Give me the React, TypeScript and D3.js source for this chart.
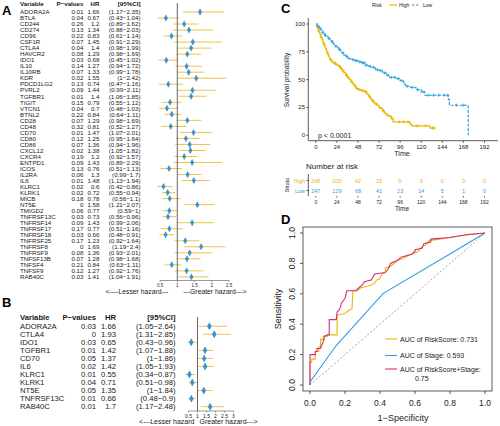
import React from "react";
import * as d3 from "d3";

const FONT = "'Liberation Sans', Arial, Helvetica, sans-serif";
const GOLD = "#E7B800";
const BLUE = "#2E9FDF";
const MAGENTA = "#D62A80";
const CI_COL = "#EEC444";
const PT_COL = "#3A94D0";
const TXT = "#1a1a1a";

// ---------- Panel A ----------
const genesA = ["ADORA2A","BTLA","CD244","CD274","CD96","CSF1R","CTLA4","HAVCR2","IDO1","IL10","IL10RB","KDR","PDCD1LG2","PVRL2","TGFBR1","TIGIT","VTCN1","BTNL2","CD28","CD48","CD70","CD80","CD86","CXCL12","CXCR4","ENTPD1","ICOS","IL2RA","IL6","KLRC1","KLRK1","MICB","NT5E","TMIGD2","TNFRSF13C","TNFRSF14","TNFRSF17","TNFRSF18","TNFRSF25","TNFRSF8","TNFRSF9","TNFSF13B","TNFSF4","TNFSF9","RAB40C"];
const pA = [0.01,0.04,0.26,0.13,0.22,0.07,0.04,0.08,0.03,0.14,0.07,0.02,0.13,0.09,0.01,0.15,0.04,0.22,0.07,0.32,0.01,0.12,0.07,0.02,0.19,0.09,0.13,0.06,0.01,0.02,0.02,0.18,0,0.06,0.03,0.09,0.17,0.03,0.17,0,0.08,0.07,0.21,0.12,0.03];
const hrA = [1.66,0.67,1.2,1.34,0.83,1.45,1.4,1.29,0.68,1.27,1.33,1.55,0.74,1.44,1.4,0.79,0.7,0.84,1.29,0.81,1.47,1.25,1.36,1.38,1.2,1.43,0.76,1.3,1.48,0.6,0.72,0.78,1.58,0.77,0.73,1.43,0.77,0.66,1.23,1.69,1.36,1.28,0.84,1.27,1.41];
const loA = [1.17,0.43,0.89,0.88,0.61,0.91,0.98,0.98,0.45,0.94,0.99,1,0.47,0.99,1.06,0.55,0.48,0.64,0.98,0.52,1.07,0.95,0.94,1.05,0.92,0.89,0.51,0.99,1.13,0.42,0.55,0.56,1.21,0.59,0.56,0.99,0.51,0.48,0.92,1.19,0.93,0.98,0.63,0.92,1.04];
const hiA = [2.35,1.04,1.62,2.03,1.14,2.29,1.99,1.69,1.02,1.72,1.78,2.42,1.16,2.11,1.85,1.12,1.03,1.11,1.69,1.27,2.01,1.64,1.96,1.82,1.57,2.29,1.13,1.7,1.94,0.86,0.94,1.1,2.07,1,0.96,2.06,1.16,0.91,1.64,2.4,2.01,1.68,1.11,1.76,1.91];
const ticksA = [0.5, 1, 1.5, 2, 2.5];

// ---------- Panel B ----------
const genesB = ["ADORA2A","CTLA4","IDO1","TGFBR1","CD70","IL6","KLRC1","KLRK1","NT5E","TNFRSF13C","RAB40C"];
const pB = [0.03,0,0.03,0.01,0.05,0.02,0.01,0.04,0.05,0.01,0.01];
const hrB = [1.66,1.93,0.65,1.42,1.37,1.42,0.55,0.71,1.35,0.66,1.7];
const loB = [1.05,1.31,0.43,1.07,1,1.05,0.34,0.51,1,0.48,1.17];
const hiB = [2.64,2.85,0.96,1.88,1.86,1.93,0.87,0.98,1.84,0.9,2.48];
const ticksB = [0.5, 1, 1.5, 2, 2.5, 3];

// ---------- Panel C ----------
const highT = [0,1,2,3,4,5,6,7,8,9,10,11,12,13,14,15,16,18,20,22,24,26,28,30,32,34,36,38,40,42,44,46,48,52,56,58,60,62,64,66,68,70,72,74,76,78,80,84,86,88,107,109,130,135];
const highS = [100,98,96,94,92,90,88,86,84,82,80,78,76,74,72,70,68,66,65,64,63,62,60,58,56,54,52,50,48,46,44,42,41,40,39,37,35,33,31,29,28,27,25,24,22,20,18,17,15,12,10,8.5,6.5,6.5];
const lowT = [0,2,4,6,8,10,12,14,16,18,20,22,24,26,28,30,32,34,36,40,44,48,52,56,60,64,68,72,76,80,84,88,92,96,100,102,108,114,120,124,150,151,152,173,173.5];
const lowS = [100,98,96,94,92,90,89,87,85,84,82,80,79,77,76,74,72,71,69,68,67,66,65,63,62,61,59,58,56,54,52,52,51,49,46,44,43,41,39,36,36,32,27,27,0];
const highCens = [3,6,9,13,17,21,23,27,29,31,35,37,41,45,47,50,54,57,61,65,69,73,77,82,87,95,100,105,115,125,133,135];
const lowCens = [2,5,8,11,15,19,23,27,31,35,38,42,45,47,50,53,55,58,62,66,70,74,78,82,86,90,94,98,104,110,116,122,128,134,140,146,150,160,168];
const timeTicks = [0,24,48,72,96,120,144,168,192];
const survTicks = [0,25,50,75,100];
const riskHigh = [248,100,42,15,5,3,0,0,0];
const riskLow = [247,129,68,41,23,14,5,1,0];

// ---------- Panel D ----------
const rocRiskX = [0,0,0.01,0.01,0.03,0.03,0.05,0.05,0.06,0.06,0.08,0.08,0.1,0.1,0.155,0.155,0.2,0.22,0.24,0.245,0.27,0.29,0.33,0.37,0.38,0.4,0.41,0.43,0.43,0.46,0.5,0.53,0.56,0.6,0.62,0.63,0.66,0.68,0.75,0.85,0.92,1];
const rocRiskY = [0,0.15,0.15,0.17,0.17,0.22,0.22,0.25,0.25,0.3,0.3,0.32,0.32,0.33,0.33,0.46,0.47,0.49,0.5,0.62,0.62,0.64,0.65,0.67,0.69,0.7,0.73,0.74,0.77,0.78,0.82,0.83,0.85,0.87,0.88,0.9,0.92,0.95,0.96,0.98,0.99,1];
const rocStageX = [0,0,0.152,0.419,0.838,1];
const rocStageY = [0,0.02,0.263,0.603,0.888,1];
const rocBothX = [0,0,0.03,0.03,0.04,0.04,0.06,0.07,0.08,0.08,0.1,0.11,0.11,0.15,0.155,0.17,0.18,0.2,0.21,0.26,0.27,0.3,0.31,0.35,0.37,0.43,0.45,0.46,0.5,0.52,0.58,0.6,0.6,0.64,0.65,0.69,0.69,0.8,0.9,1];
const rocBothY = [0,0.2,0.2,0.22,0.22,0.24,0.24,0.27,0.3,0.32,0.33,0.33,0.43,0.43,0.48,0.5,0.54,0.57,0.62,0.62,0.63,0.66,0.68,0.69,0.73,0.74,0.77,0.8,0.82,0.84,0.86,0.88,0.89,0.9,0.93,0.94,0.96,0.97,0.99,1];
const rocTicks = [0, 0.2, 0.4, 0.6, 0.8, 1.0];
const legendD = ["AUC of RiskScore: 0.731", "AUC of Stage: 0.593", "AUC of RiskScore+Stage:"];

const fmtCI = (lo: number, hi: number) => `(${lo}\u2212${hi})`;

function stepAt(ts: number[], ss: number[], t: number) {
  let v = ss[0];
  for (let i = 0; i < ts.length; i++) if (ts[i] <= t) v = ss[i];
  return v;
}

function Forest(props: {
  genes: string[]; p: number[]; hr: number[]; lo: number[]; hi: number[]; ticks: number[];
  x: d3.ScaleLinear<number, number>; y0: number; dy: number; headerY: number; fs: number;
  colX: number[]; axisY: number; tickFs: number; labelY: number; labelFs: number; sym: number;
  gapL: number; gapR: number; leftLabel: string; rightLabel: string;
}) {
  const { genes, p, hr, lo, hi, ticks, x, y0, dy, headerY, fs, colX, axisY, tickFs, labelY, labelFs, sym, gapL, gapR, leftLabel, rightLabel } = props;
  const diamond = d3.symbol(d3.symbolDiamond).size(sym)() as string;
  const x1 = x(1);
  return (
    <g fontFamily={FONT} fill={TXT}>
      <text x={colX[0]} y={headerY} fontSize={fs} fontWeight="bold">Variable</text>
      <text x={colX[1]} y={headerY} fontSize={fs} fontWeight="bold" textAnchor="end">P{"\u2212"}values</text>
      <text x={colX[2]} y={headerY} fontSize={fs} fontWeight="bold" textAnchor="end">HR</text>
      <text x={colX[3]} y={headerY} fontSize={fs} fontWeight="bold" textAnchor="end">[95%CI]</text>
      {genes.map((g, i) => {
        const yy = y0 + i * dy;
        return (
          <g key={g + i}>
            <text x={colX[0]} y={yy + fs * 0.36} fontSize={fs}>{g}</text>
            <text x={colX[1]} y={yy + fs * 0.36} fontSize={fs} textAnchor="end">{String(p[i])}</text>
            <text x={colX[2]} y={yy + fs * 0.36} fontSize={fs} textAnchor="end">{String(hr[i])}</text>
            <text x={colX[3]} y={yy + fs * 0.36} fontSize={fs} textAnchor="end">{fmtCI(lo[i], hi[i])}</text>
            <line x1={x(lo[i])} x2={x(hi[i])} y1={yy} y2={yy} stroke={CI_COL} strokeWidth={1} />
            <path d={diamond} transform={`translate(${x(hr[i])},${yy})`} fill={PT_COL} />
          </g>
        );
      })}
      <line x1={x1} x2={x1} y1={headerY - 3} y2={axisY} stroke="#555" strokeWidth={0.9} />
      <line x1={x(ticks[0])} x2={x(ticks[ticks.length - 1])} y1={axisY} y2={axisY} stroke="#555" strokeWidth={0.6} />
      {ticks.map((t) => (
        <g key={t}>
          <line x1={x(t)} x2={x(t)} y1={axisY} y2={axisY + 1.5} stroke="#555" strokeWidth={0.6} />
          <text x={x(t)} y={axisY + 1.8 + tickFs} fontSize={tickFs} textAnchor="middle">{String(t)}</text>
        </g>
      ))}
      <text x={x1 - gapL} y={labelY} fontSize={labelFs} textAnchor="end">{leftLabel}</text>
      <text x={x1 + gapR} y={labelY} fontSize={labelFs} textAnchor="start">{rightLabel}</text>
    </g>
  );
}

export default function App() {
  const xA = d3.scaleLinear().domain([0.5, 2.5]).range([160.05, 229.05]);
  const xB = d3.scaleLinear().domain([0.5, 3]).range([188.5, 233.5]);
  const xC = d3.scaleLinear().domain([0, 192]).range([315.8, 484.5]);
  const yC = d3.scaleLinear().domain([0, 100]).range([135.3, 24]);
  const step = d3.line<[number, number]>().x((d) => xC(d[0])).y((d) => yC(d[1])).curve(d3.curveStepAfter);
  const highPath = step(highT.map((t, i) => [t, highS[i]]));
  const lowPath = step(lowT.map((t, i) => [t, lowS[i]]));
  const xD = d3.scaleLinear().domain([0, 1]).range([310, 485]);
  const yD = d3.scaleLinear().domain([0, 1]).range([385, 233]);
  const roc = d3.line<[number, number]>().x((d) => xD(d[0])).y((d) => yD(d[1]));
  const rocRisk = roc(rocRiskX.map((v, i) => [v, rocRiskY[i]]));
  const rocStage = roc(rocStageX.map((v, i) => [v, rocStageY[i]]));
  const rocBoth = roc(rocBothX.map((v, i) => [v, rocBothY[i]]));

  const axC = "#333";
  const cens = (t: number, ts: number[], ss: number[], col: string, k: string) => {
    const cx = xC(t), cy = yC(stepAt(ts, ss, t));
    return (
      <g key={k} stroke={col} strokeWidth={0.8}>
        <line x1={cx - 1.6} x2={cx + 1.6} y1={cy} y2={cy} />
        <line x1={cx} x2={cx} y1={cy - 1.6} y2={cy + 1.6} />
      </g>
    );
  };
  const legY = [339, 355.5, 369];

  return (
    <div style={{ position: "absolute", left: 0, top: 0, width: 500, height: 426, background: "#fff" }}>
      <svg width={500} height={426} viewBox="0 0 500 426" style={{ display: "block" }}>
        <rect x={0} y={0} width={500} height={426} fill="#fff" />
        <g fontFamily={FONT} fontWeight="bold" fontSize={13} fill="#000">
          <text x={2} y={15}>A</text>
          <text x={2} y={307}>B</text>
          <text x={281} y={13}>C</text>
          <text x={281} y={224}>D</text>
        </g>

        <Forest genes={genesA} p={pA} hr={hrA} lo={loA} hi={hiA} ticks={ticksA} x={xA}
          y0={12} dy={6.02} headerY={6} fs={6.2} colX={[20, 83.5, 99.5, 140.5]} axisY={280.5} tickFs={4.5}
          labelY={294} labelFs={6.8} sym={14} gapL={9} gapR={6}
          leftLabel="<----Lesser hazard---" rightLabel="---Greater hazard--->" />
        <Forest genes={genesB} p={pB} hr={hrB} lo={loB} hi={hiB} ticks={ticksB} x={xB}
          y0={326.2} dy={8.05} headerY={320} fs={7.7} colX={[20, 96, 116, 175.5]} axisY={411} tickFs={5}
          labelY={424} labelFs={7} sym={18} gapL={3} gapR={2}
          leftLabel="<---Lesser hazard" rightLabel="Greater hazard--->" />

        {/* Panel C */}
        <g fontFamily={FONT}>
          <text x={372} y={7} fontSize={5} fill={TXT}>Risk</text>
          <line x1={389} x2={397} y1={5} y2={5} stroke={GOLD} strokeWidth={1.2} />
          <text x={399} y={7} fontSize={5} fill={TXT}>High</text>
          <line x1={412} x2={420} y1={5} y2={5} stroke={BLUE} strokeWidth={1.2} strokeDasharray="2.5,1.5" />
          <text x={423} y={7} fontSize={5} fill={TXT}>Low</text>

          <line x1={308.3} x2={308.3} y1={18} y2={140.7} stroke={axC} strokeWidth={0.8} />
          <line x1={308.3} x2={498} y1={140.7} y2={140.7} stroke={axC} strokeWidth={0.8} />
          {survTicks.map((t) => (
            <g key={t}>
              <line x1={306.3} x2={308.3} y1={yC(t)} y2={yC(t)} stroke={axC} strokeWidth={0.8} />
              <text x={305} y={yC(t) + 2} fontSize={6} textAnchor="end" fill={TXT}>{t}</text>
            </g>
          ))}
          {timeTicks.map((t) => (
            <g key={t}>
              <line x1={xC(t)} x2={xC(t)} y1={140.7} y2={142.7} stroke={axC} strokeWidth={0.8} />
              <text x={xC(t)} y={148.5} fontSize={6} textAnchor="middle" fill={TXT}>{t}</text>
            </g>
          ))}
          <text transform="translate(289,80) rotate(-90)" fontSize={6.5} textAnchor="middle" fill={TXT}>Survival probability</text>
          <text x={402} y={156} fontSize={7} textAnchor="middle" fill={TXT}>Time</text>
          <path d={lowPath || ""} fill="none" stroke={BLUE} strokeWidth={1.2} strokeDasharray="3,1.5" />
          <path d={highPath || ""} fill="none" stroke={GOLD} strokeWidth={1.2} />
          {lowCens.map((t, i) => cens(t, lowT, lowS, BLUE, "l" + i))}
          {highCens.map((t, i) => cens(t, highT, highS, GOLD, "h" + i))}
          <text x={318} y={137.5} fontSize={7} fill={TXT}>p {"<"} 0.0001</text>

          <text x={306} y={169} fontSize={8} fill={TXT}>Number at risk</text>
          <line x1={308.3} x2={308.3} y1={174} y2={196} stroke={axC} strokeWidth={0.8} />
          <line x1={306.5} x2={308.3} y1={180.5} y2={180.5} stroke={axC} strokeWidth={0.8} />
          <line x1={306.5} x2={308.3} y1={190.5} y2={190.5} stroke={axC} strokeWidth={0.8} />
          <text x={305} y={182.5} fontSize={5.5} textAnchor="end" fill={GOLD}>High</text>
          <text x={305} y={192.5} fontSize={5.5} textAnchor="end" fill={BLUE}>Low</text>
          <text transform="translate(289,185) rotate(-90)" fontSize={5.5} textAnchor="middle" fill={TXT}>Strata</text>
          {timeTicks.map((t, i) => (
            <g key={"r" + t}>
              <text x={xC(t)} y={182.5} fontSize={5.5} textAnchor="middle" fill={GOLD}>{riskHigh[i]}</text>
              <text x={xC(t)} y={192.5} fontSize={5.5} textAnchor="middle" fill={BLUE}>{riskLow[i]}</text>
              <line x1={xC(t)} x2={xC(t)} y1={196} y2={197.5} stroke={axC} strokeWidth={0.8} />
              <text x={xC(t)} y={203.5} fontSize={5} textAnchor="middle" fill={TXT}>{t}</text>
            </g>
          ))}
          <text x={402} y={211} fontSize={6.5} textAnchor="middle" fill={TXT}>Time</text>
        </g>

        {/* Panel D */}
        <g fontFamily={FONT}>
          <rect x={303} y={227} width={189} height={164} fill="none" stroke="#333" strokeWidth={0.8} />
          <line x1={xD(0)} y1={yD(0)} x2={xD(1)} y2={yD(1)} stroke="#888" strokeWidth={0.8} strokeDasharray="2,2" />
          <path d={rocStage || ""} fill="none" stroke={BLUE} strokeWidth={1.1} />
          <path d={rocRisk || ""} fill="none" stroke={GOLD} strokeWidth={1.1} />
          <path d={rocBoth || ""} fill="none" stroke={MAGENTA} strokeWidth={1.1} />
          {rocTicks.map((t) => (
            <g key={t}>
              <line x1={xD(t)} x2={xD(t)} y1={391} y2={394} stroke="#333" strokeWidth={0.8} />
              <text x={xD(t)} y={406} fontSize={8.5} textAnchor="middle" fill={TXT}>{t.toFixed(1)}</text>
              <line x1={300} x2={303} y1={yD(t)} y2={yD(t)} stroke="#333" strokeWidth={0.8} />
              <text transform={`translate(295,${yD(t)}) rotate(-90)`} fontSize={8.5} textAnchor="middle" fill={TXT}>{t.toFixed(1)}</text>
            </g>
          ))}
          <text transform="translate(281,309) rotate(-90)" fontSize={9} textAnchor="middle" fill={TXT}>Sensitivity</text>
          <text x={403} y={421} fontSize={9} textAnchor="middle" fill={TXT}>1{"\u2212"}Specificity</text>
          {[GOLD, BLUE, MAGENTA].map((c, i) => (
            <g key={c}>
              <line x1={385} x2={397} y1={legY[i]} y2={legY[i]} stroke={c} strokeWidth={1.1} />
              <text x={400} y={legY[i] + 2.5} fontSize={7} fill={TXT}>{legendD[i]}</text>
            </g>
          ))}
          <text x={415} y={380.5} fontSize={7} fill={TXT}>0.75</text>
        </g>
      </svg>
    </div>
  );
}
